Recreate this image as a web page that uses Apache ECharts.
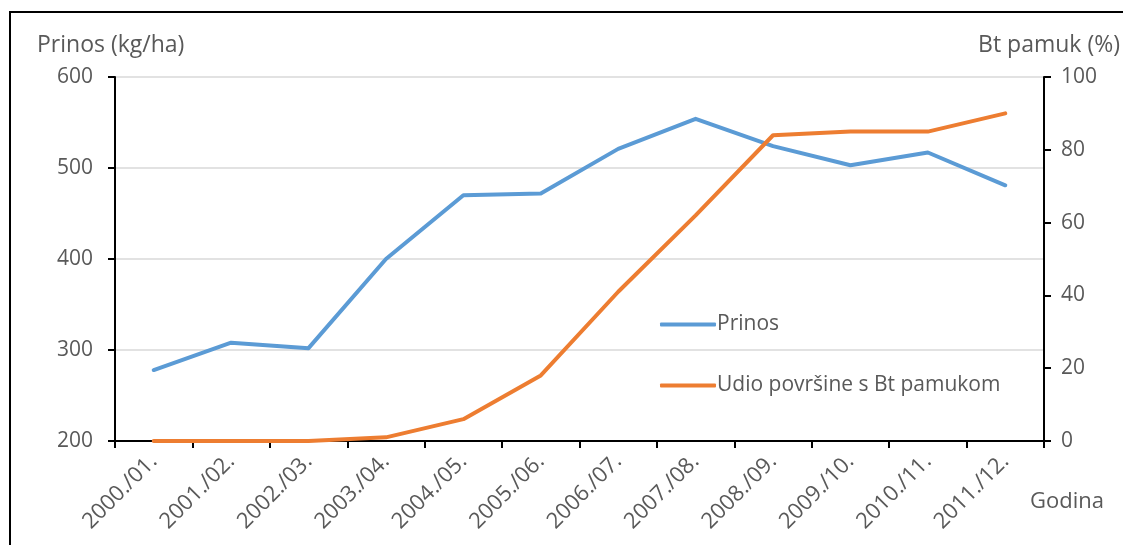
<!DOCTYPE html>
<html><head><meta charset="utf-8">
<script src="https://cdn.jsdelivr.net/npm/echarts@6/dist/echarts.min.js"></script>
<style>html,body{margin:0;padding:0;background:#fff}#c{width:1123px;height:545px}</style>
</head><body><div id="c"></div>
<script>
const categories = ['2000./01.','2001./02.','2002./03.','2003./04.','2004./05.','2005./06.','2006./07.','2007./08.','2008./09.','2009./10.','2010./11.','2011./12.'];
const prinos = [278, 308, 302, 400, 470, 472, 521, 554, 524, 503, 517, 481];
const btShare = [0, 0, 0, 1, 6, 18, 41, 62, 84, 85, 85, 90];
const leftTicks = [200, 600, 100];
const rightTicks = [0, 100, 20];
const xAxisTitle = 'Godina';

const font = '"Open Sans", "Noto Sans", sans-serif';
const txt = '#595959';
const chart = echarts.init(document.getElementById('c'));
chart.setOption({
  animation: false,
  textStyle: {fontFamily: font},
  grid: {left: 115, right: 79, top: 77, bottom: 104, outerBoundsMode: 'none', containLabel: false},
  graphic: [
    {type: 'rect', shape: {x: 10, y: 12, width: 1200, height: 600}, style: {fill: 'none', stroke: '#000', lineWidth: 2}, silent: true},
    {type: 'text', left: 1030, top: 491, style: {text: xAxisTitle, fontSize: 22, fill: txt, fontFamily: font}, silent: true}
  ],
  legend: {
    orient: 'vertical', left: 655, top: 309, itemGap: 40, itemWidth: 56, itemHeight: 4,
    icon: 'roundRect',
    textStyle: {fontFamily: font, fontSize: 21, color: txt, padding: [0,0,0,-4]},
    data: ['Prinos', 'Udio površine s Bt pamukom']
  },
  xAxis: {
    type: 'category', data: categories, boundaryGap: true,
    axisLine: {lineStyle: {color: '#000', width: 2}},
    axisTick: {show: true, length: 7, lineStyle: {color: '#000', width: 2}},
    axisLabel: {rotate: 45, fontSize: 22, color: txt, margin: 17, fontFamily: font}
  },
  yAxis: [{
    type: 'value', min: leftTicks[0], max: leftTicks[1], interval: leftTicks[2],
    name: 'Prinos (kg/ha)', nameLocation: 'end', nameGap: 20,
    nameTextStyle: {fontSize: 23, color: txt, align: 'left', padding: [0, 0, 0, -78]},
    axisLine: {show: true, lineStyle: {color: '#000', width: 2}},
    axisTick: {show: true, length: 7, lineStyle: {color: '#000', width: 2}},
    axisLabel: {fontSize: 21, color: txt, margin: 22},
    splitLine: {show: true, lineStyle: {color: '#d9d9d9', width: 1.5}}
  }, {
    type: 'value', min: rightTicks[0], max: rightTicks[1], interval: rightTicks[2], position: 'right',
    name: 'Bt pamuk (%)', nameLocation: 'end', nameGap: 20,
    nameTextStyle: {fontSize: 23, color: txt, align: 'right', padding: [0, -76, 0, 0]},
    axisLine: {show: true, lineStyle: {color: '#000', width: 2}},
    axisTick: {show: true, length: 7, lineStyle: {color: '#000', width: 2}},
    axisLabel: {fontSize: 21, color: txt, margin: 17},
    splitLine: {show: false}
  }],
  series: [{
    name: 'Prinos', type: 'line', yAxisIndex: 0, data: prinos, symbol: 'none',
    lineStyle: {color: '#5b9bd5', width: 4, cap: 'round', join: 'round'}, itemStyle: {color: '#5b9bd5'}
  }, {
    name: 'Udio površine s Bt pamukom', type: 'line', yAxisIndex: 1, data: btShare, symbol: 'none',
    lineStyle: {color: '#ed7d31', width: 4, cap: 'round', join: 'round'}, itemStyle: {color: '#ed7d31'}
  }]
});
</script></body></html>
